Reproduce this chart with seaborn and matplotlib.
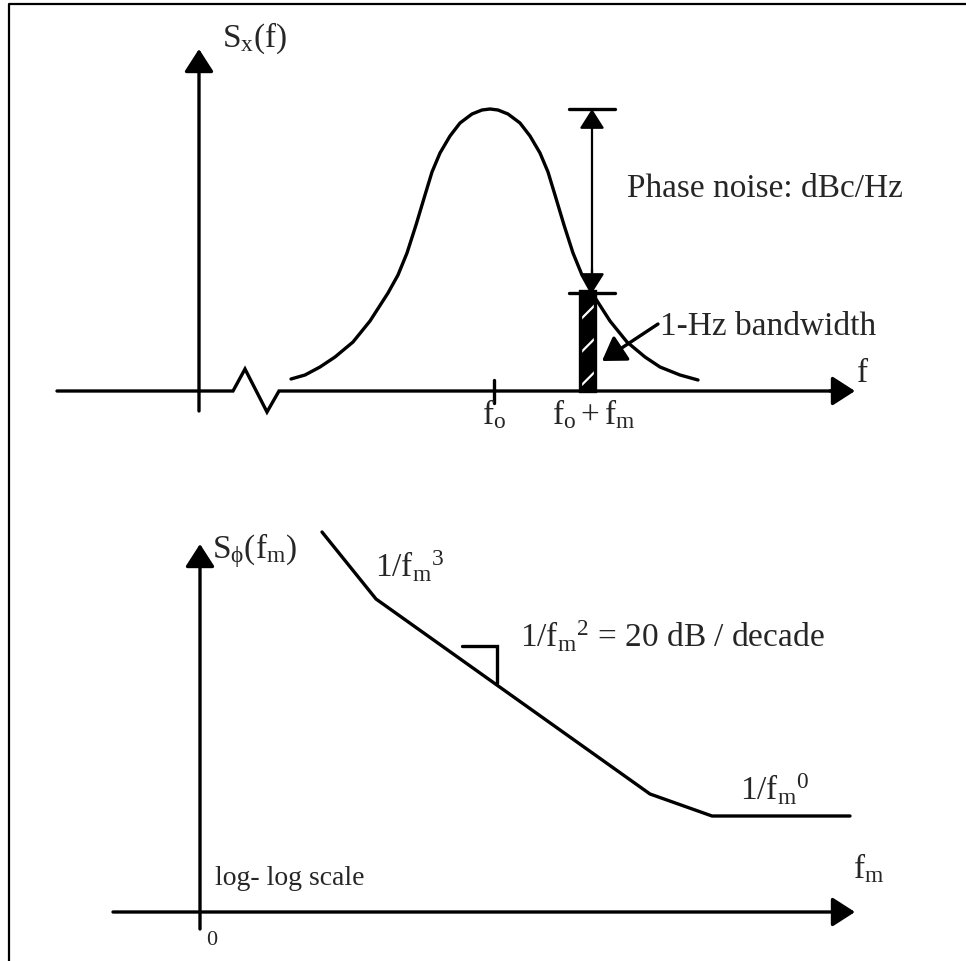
import matplotlib
matplotlib.use("Agg")
import matplotlib.pyplot as plt
import seaborn as sns

# ---- carrier spectrum (top panel), drawing units: px, y grows downward ----
bell_f = [291, 305, 320, 335, 353, 370, 388, 398, 407, 416, 425, 432, 440,
          450, 460, 472, 482, 490, 498, 508, 520, 530, 540, 548, 555, 564,
          573, 582, 592, 610, 627, 645, 660, 680, 698]
bell_level = [380, 376, 368, 358, 343, 322, 294, 276, 254, 226, 196, 173, 154,
              137, 124, 115, 111, 110, 111, 115, 124, 137, 154, 173, 196, 226,
              254, 276, 294, 322, 343, 358, 368, 376, 381]

# 1-Hz slice at the offset frequency fo + fm
slice_f = [587.5]
slice_width = [15]
slice_top = [292]

# ---- phase-noise asymptotes (bottom panel) ----
noise_fm = [322, 376, 650, 712, 850]
noise_level = [533, 600, 795, 817, 817]

TOP_AXIS_Y = 392
BOT_AXIS_Y = 913
INK = "black"
TXT = "#262626"

sns.set_theme(style="white")
plt.rcParams["font.family"] = ["Liberation Serif", "DejaVu Serif"]
plt.rcParams["mathtext.fontset"] = "custom"
plt.rcParams["mathtext.rm"] = "Liberation Serif"
plt.rcParams["mathtext.it"] = "Liberation Serif:italic"
plt.rcParams["hatch.linewidth"] = 1.6

fig = plt.figure(figsize=(9.66, 9.62), dpi=100)
ax = fig.add_axes([0, 0, 1, 1])
ax.set_xlim(0, 966)
ax.set_ylim(962, 0)
ax.axis("off")

LW = 2.4


def arrow(x0, y0, x1, y1, hl=0.7, hw=0.45, lw=LW):
    ax.annotate("", xy=(x1, y1), xytext=(x0, y0),
                arrowprops=dict(arrowstyle=f"-|>,head_length={hl},head_width={hw}",
                                mutation_scale=20, lw=lw, color=INK,
                                shrinkA=0, shrinkB=0))


# frame (left and top edges)
ax.plot([9, 9, 966], [962, 5, 5], color=INK, lw=1.6, solid_capstyle="butt")

# ---------------- top panel ----------------
arrow(199, 412, 199, 50)                       # S_x(f) axis
ax.plot([57, 233, 245, 267, 279, 840],
        [TOP_AXIS_Y, TOP_AXIS_Y, 370, 413, TOP_AXIS_Y, TOP_AXIS_Y],
        color=INK, lw=LW, solid_joinstyle="miter")
arrow(830, TOP_AXIS_Y, 855, TOP_AXIS_Y)
ax.plot([494, 494], [381, 404], color=INK, lw=LW)  # fo tick

sns.lineplot(x=bell_f, y=bell_level, ax=ax, color=INK, lw=LW,
             sort=False, estimator=None)

# hatched 1-Hz slice
ax.bar(slice_f, [TOP_AXIS_Y - t for t in slice_top], bottom=slice_top,
       width=slice_width, color=INK, edgecolor="white", hatch="/", lw=0)
ax.bar(slice_f, [TOP_AXIS_Y - t for t in slice_top], bottom=slice_top,
       width=slice_width, fill=False, edgecolor=INK, lw=2.4)

# phase-noise span (double arrow with end bars)
ax.plot([592, 592], [125, 280], color=INK, lw=1.6)
arrow(592, 130, 592, 110, hl=0.6, hw=0.38, lw=1.6)
arrow(592, 270, 592, 294, hl=0.6, hw=0.38, lw=1.6)
ax.plot([569, 615], [110, 110], color=INK, lw=LW)
ax.plot([569, 615], [294, 294], color=INK, lw=LW)

# bandwidth pointer
arrow(658, 325, 602, 362, hl=0.7, hw=0.45, lw=LW)

fs = 24
ax.text(222, 47, r"$\mathrm{S_x(f)}$", fontsize=fs, color=TXT)
ax.text(627, 197, "Phase noise: dBc/Hz", fontsize=fs, color=TXT)
ax.text(660, 335, "1-Hz bandwidth", fontsize=fs, color=TXT)
ax.text(857, 382, "f", fontsize=fs, color=TXT)
ax.text(494, 424, r"$\mathrm{f_o}$", fontsize=fs, color=TXT, ha="center")
ax.text(552, 424, r"$\mathrm{f_o + f_m}$", fontsize=fs, color=TXT)

# ---------------- bottom panel ----------------
arrow(200, 930, 200, 545)
arrow(113, BOT_AXIS_Y, 855, BOT_AXIS_Y)

sns.lineplot(x=noise_fm, y=noise_level, ax=ax, color=INK, lw=LW,
             sort=False, estimator=None)

# right-angle slope marker
ax.plot([462, 497, 497], [647, 647, 684], color=INK, lw=LW,
        solid_joinstyle="miter")

ax.text(212, 558, r"$\mathrm{S_\phi(f_m)}$", fontsize=fs, color=TXT)
ax.text(375, 577, r"$\mathrm{1/{f_m}^3}$", fontsize=fs, color=TXT)
ax.text(520, 647, r"$\mathrm{1/{f_m}^2}$ = 20 dB / decade", fontsize=fs, color=TXT)
ax.text(740, 800, r"$\mathrm{1/{f_m}^0}$", fontsize=fs, color=TXT)
ax.text(853, 878, r"$\mathrm{f_m}$", fontsize=fs, color=TXT)
ax.text(215, 885, "log- log scale", fontsize=20, color=TXT)
ax.text(206, 945, "0", fontsize=16, color=TXT)

fig.savefig("out.png", dpi=100, facecolor="white")
